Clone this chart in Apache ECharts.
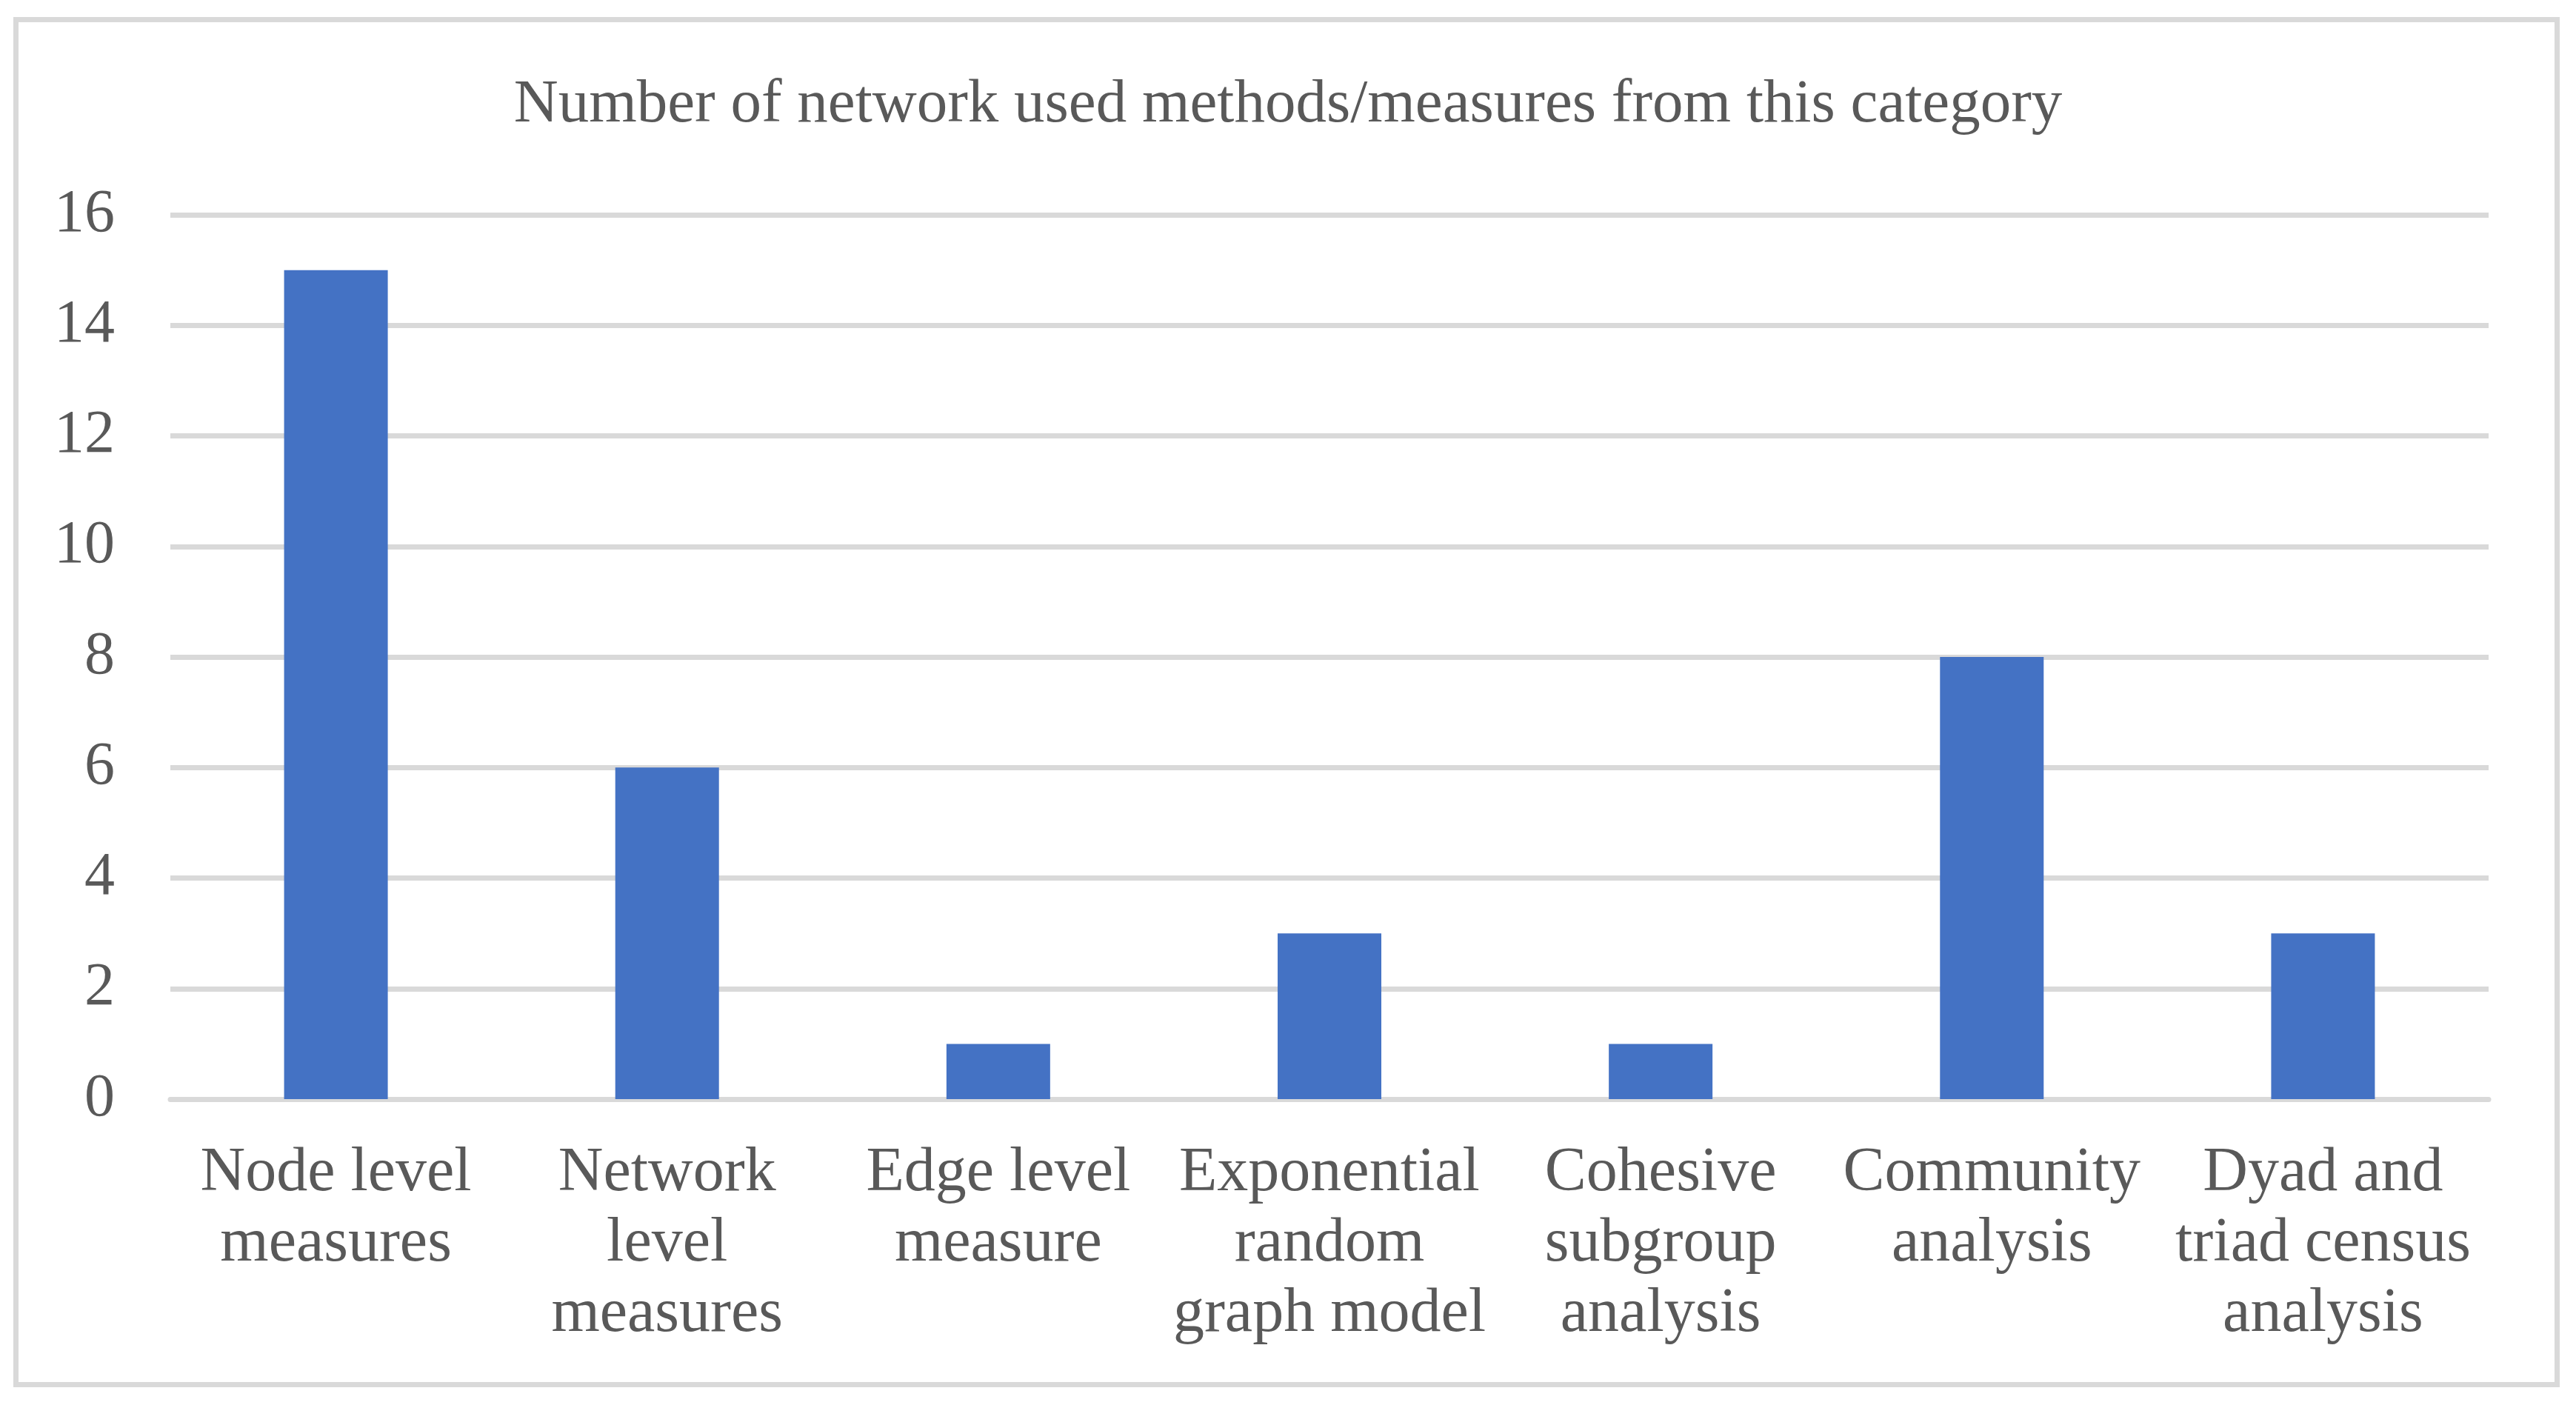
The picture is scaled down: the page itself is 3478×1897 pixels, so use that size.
<!DOCTYPE html>
<html>
<head>
<meta charset="utf-8">
<script src="https://cdn.jsdelivr.net/npm/echarts@6/dist/echarts.min.js"></script>
<style>
html,body{margin:0;padding:0;background:#fff;}
#frame{position:absolute;left:18px;top:23px;width:3438px;height:1850px;border:7px solid #d9d9d9;box-sizing:border-box;}
#chart{position:absolute;left:0;top:0;width:3478px;height:1897px;}
</style>
</head>
<body>
<div id="frame"></div>
<div id="chart"></div>
<script>
const titleText = 'Number of network used methods/measures from this category';
const categories = ['Node level measures','Network level measures','Edge level measure','Exponential random graph model','Cohesive subgroup analysis','Community analysis','Dyad and triad census analysis'];
const counts = [15, 6, 1, 3, 1, 8, 3];
const yMin = 0, yMax = 16, yStep = 2;

const FONT = '"Liberation Serif", "Times New Roman", serif';
const LABEL_SIZE = 84;
const WRAP_WIDTH = 445;
const ctx = document.createElement('canvas').getContext('2d');
ctx.font = LABEL_SIZE + 'px ' + FONT;
function wrap(text){
  const words = text.split(' ');
  const lines = [];
  let cur = '';
  for (const w of words){
    const t = cur ? cur + ' ' + w : w;
    if (cur && ctx.measureText(t).width > WRAP_WIDTH){ lines.push(cur); cur = w; }
    else cur = t;
  }
  if (cur) lines.push(cur);
  return lines.join('\n');
}

const chart = echarts.init(document.getElementById('chart'), null, {renderer:'canvas'});
chart.setOption({
  animation:false,
  backgroundColor:'transparent',
  title:{text:titleText,left:'center',top:96,textStyle:{fontFamily:FONT,fontSize:83,fontWeight:'normal',color:'#595959'}},
  grid:{left:230,right:118,top:290,bottom:413,containLabel:false},
  xAxis:{type:'category',data:categories,
    axisLine:{show:true,lineStyle:{color:'#d9d9d9',width:7}},
    axisTick:{show:false},
    axisLabel:{interval:0,fontFamily:FONT,fontSize:LABEL_SIZE,color:'#595959',margin:53,lineHeight:95,align:'center',formatter:wrap}
  },
  yAxis:{type:'value',min:yMin,max:yMax,interval:yStep,
    axisLine:{show:false},axisTick:{show:false},
    axisLabel:{fontFamily:FONT,fontSize:82,color:'#595959',margin:75},
    splitLine:{lineStyle:{color:'#d9d9d9',width:7}}
  },
  series:[{type:'bar',data:counts,barWidth:140,itemStyle:{color:'#4472C4'}}]
});
</script>
</body>
</html>
